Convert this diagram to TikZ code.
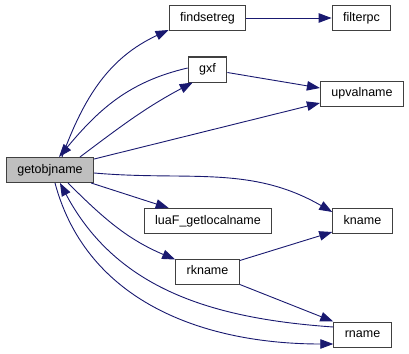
\documentclass[tikz,border=0pt]{standalone}
\usepackage{fontspec}
\setmainfont{Liberation Sans}
\usepackage{xcolor}
\usetikzlibrary{calc,arrows.meta}
\definecolor{edgeblue}{HTML}{191970}
\definecolor{boxgray}{HTML}{BFBFBF}

\begin{document}
\begin{tikzpicture}[x=1pt,y=1pt,
  fn/.style={draw=black!75,line width=1pt,fill=white,inner xsep=11pt,
    minimum height=25pt,text height=9pt,text depth=2.5pt,
    font=\fontsize{12.5}{14}\selectfont},
  fnsel/.style={fn,fill=boxgray},
  callarrow/.style={draw=edgeblue,line width=0.9pt,
    -{Triangle[length=13pt,width=9.5pt,fill=edgeblue]}}]

\useasboundingbox (0,0) rectangle (409,-353);

\node[fnsel] (getobj) at (50,-170) {getobjname};
\node[fn] (findsetreg) at (207.5,-18) {findsetreg};
\node[fn] (filterpc) at (361.5,-18) {filterpc};
\node[fn] (gxf) at (207.5,-69.5) {gxf};
\node[fn] (upval) at (362,-93.5) {upvalname};
\node[fn] (getlocal) at (208,-221) {luaF\_getlocalname};
\node[fn] (kname) at (362.5,-221) {kname};
\node[fn] (rkname) at (207.5,-271.5) {rkname};
\node[fn] (rname) at (362.5,-334.5) {rname};

% calls going up
\draw[callarrow] ($(getobj.north)+(12,0)$)
    to[out=70,in=205] ($(findsetreg.south west)+(0,1)$);
\draw[callarrow] ($(gxf.west)+(0,1.5)$)
    to[out=193,in=50] ($(getobj.north)+(9,0)$);
\draw[callarrow] ($(getobj.north)+(30,0)$)
    to[out=37,in=208] ($(gxf.south west)+(5,0)$);
\draw[callarrow] ($(getobj.east)+(0,11)$) -- ($(upval.west)+(0,-9.5)$);
\draw[callarrow] ($(gxf.east)+(0,-3)$) -- ($(upval.west)+(0,5.5)$);
\draw[callarrow] (findsetreg.east) -- (filterpc.west);

% calls going down
\draw[callarrow] ($(getobj.south east)+(-3,0)$) -- ($(getlocal.north west)+(25,0)$);
\draw[callarrow] ($(getobj.east)+(0,-3)$)
    to[out=-5,in=150] ($(kname.west)+(0,9)$);
\draw[callarrow] ($(getobj.south)+(18,0)$)
    to[out=-45,in=157] ($(rkname.north west)+(0,-1)$);
\draw[callarrow] ($(rkname.north east)+(0,-2)$) -- ($(kname.south west)+(0,2)$);
\draw[callarrow] (rkname.south east) -- (rname.north west);

% getobjname <-> rname
\draw[callarrow] ($(rname.west)+(0,7.5)$)
    to[out=176,in=-62] ($(getobj.south)+(10,0)$);
\draw[callarrow] ($(getobj.south)+(5,0)$)
    to[out=-75,in=180] ($(rname.west)+(0,-9.5)$);

\end{tikzpicture}
\end{document}
